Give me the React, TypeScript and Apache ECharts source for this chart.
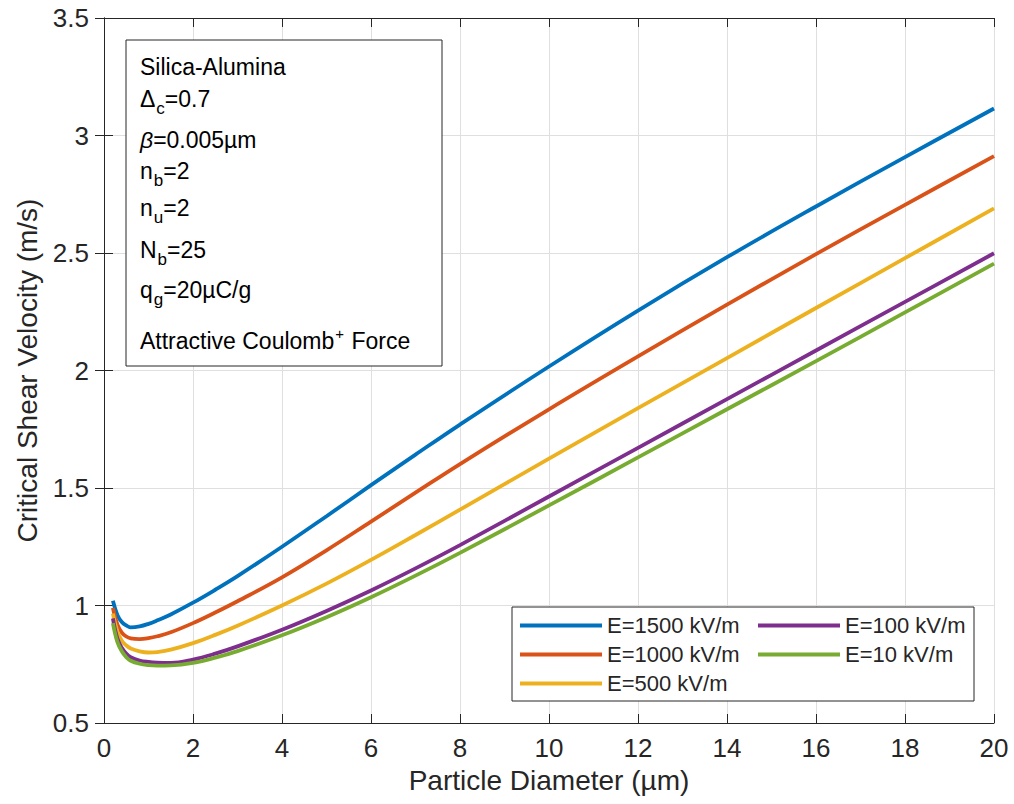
import React, { useEffect, useRef } from "react";
import * as echarts from "echarts";

// Particle diameter (µm)
const diameters = [0.2, 0.3, 0.4, 0.5, 0.6, 0.8, 1.0, 1.2, 1.5, 2, 2.5, 3, 4, 5, 6, 7, 8, 10, 12, 14, 16, 18, 20];

// Critical shear velocity (m/s) per field strength
const e1500 = [1.02, 0.96, 0.93, 0.915, 0.907, 0.911, 0.922, 0.937, 0.962, 1.012, 1.067, 1.125, 1.25, 1.38, 1.512, 1.642, 1.77, 2.017, 2.255, 2.482, 2.698, 2.908, 3.115];
const e1000 = [0.99, 0.92, 0.885, 0.868, 0.86, 0.857, 0.861, 0.869, 0.886, 0.925, 0.97, 1.018, 1.12, 1.235, 1.357, 1.48, 1.602, 1.835, 2.06, 2.28, 2.495, 2.705, 2.912];
const e500 = [0.965, 0.89, 0.85, 0.83, 0.817, 0.805, 0.8, 0.802, 0.812, 0.84, 0.875, 0.914, 1.0, 1.093, 1.194, 1.3, 1.408, 1.625, 1.84, 2.053, 2.266, 2.478, 2.69];
const e100 = [0.945, 0.86, 0.82, 0.795, 0.78, 0.766, 0.76, 0.757, 0.756, 0.77, 0.795, 0.826, 0.897, 0.977, 1.064, 1.158, 1.257, 1.464, 1.671, 1.878, 2.085, 2.292, 2.499];
const e10 = [0.925, 0.845, 0.805, 0.78, 0.765, 0.752, 0.746, 0.744, 0.745, 0.756, 0.778, 0.806, 0.873, 0.95, 1.035, 1.127, 1.224, 1.426, 1.63, 1.835, 2.04, 2.247, 2.455];

const seriesNames = ["E=1500 kV/m", "E=1000 kV/m", "E=500 kV/m", "E=100 kV/m", "E=10 kV/m"];
const seriesValues = [e1500, e1000, e500, e100, e10];
const colors = ["#0072BD", "#D95319", "#EDB120", "#7E2F8E", "#77AC30"];

const xMin = 0;
const xMax = 20;
const xStep = 2;
const yMin = 0.5;
const yMax = 3.5;
const yStep = 0.5;

const FONT = "'Liberation Sans', Arial, Helvetica, sans-serif";
const INK = "#262626";

export default function App() {
  const ref = useRef<HTMLDivElement>(null);

  useEffect(() => {
    if (!ref.current) return;
    const chart = echarts.init(ref.current, undefined, { renderer: "svg" });

    const n = (t: string) => `{n|${t}}`;
    const sub = (t: string) => `{s|${t}}`;
    const sup = (t: string) => `{p|${t}}`;
    const rich = {
      n: { fontSize: 23, fontFamily: FONT, color: INK },
      i: { fontSize: 23, fontFamily: FONT, color: "#555", fontStyle: "italic" },
      s: { fontSize: 17, fontFamily: FONT, color: INK, padding: [18, 0, 0, 1] },
      p: { fontSize: 15, fontFamily: FONT, color: INK, padding: [0, 1, 16, 1] },
    };
    const boxLines: [string, number][] = [
      [n("Silica-Alumina"), 67],
      [n("Δ") + sub("c") + n("=0.7"), 99],
      ["{i|β}" + n("=0.005µm"), 140],
      [n("n") + sub("b") + n("=2"), 171],
      [n("n") + sub("u") + n("=2"), 208],
      [n("N") + sub("b") + n("=25"), 250],
      [n("q") + sub("g") + n("=20µC/g"), 290],
      [n("Attractive Coulomb") + sup("+") + n(" Force"), 341],
    ];

    const axisCommon = {
      axisLine: { show: true, lineStyle: { color: INK, width: 1 } },
      axisTick: { show: true, inside: true, length: 9, lineStyle: { color: INK } },
    };

    chart.setOption({
      animation: false,
      backgroundColor: "#ffffff",
      color: colors,
      grid: { left: 104, right: 20, top: 18, bottom: 81, containLabel: false },
      xAxis: [
        {
          type: "value",
          min: xMin,
          max: xMax,
          interval: xStep,
          position: "bottom",
          ...axisCommon,
          splitLine: { show: true, lineStyle: { color: "#dfdfdf", width: 1 } },
          axisLabel: { fontSize: 26, color: INK, fontFamily: FONT, margin: 12 },
          name: "Particle Diameter (µm)",
          nameLocation: "middle",
          nameGap: 43,
          nameTextStyle: { fontSize: 28, color: INK, fontFamily: FONT },
        },
        {
          type: "value",
          min: xMin,
          max: xMax,
          interval: xStep,
          position: "top",
          ...axisCommon,
          splitLine: { show: false },
          axisLabel: { show: false },
        },
      ],
      yAxis: [
        {
          type: "value",
          min: yMin,
          max: yMax,
          interval: yStep,
          position: "left",
          ...axisCommon,
          splitLine: { show: true, lineStyle: { color: "#dfdfdf", width: 1 } },
          axisLabel: { fontSize: 26, color: INK, fontFamily: FONT, margin: 15 },
          name: "Critical Shear Velocity (m/s)",
          nameLocation: "middle",
          nameGap: 62,
          nameTextStyle: { fontSize: 28, color: INK, fontFamily: FONT },
        },
        {
          type: "value",
          min: yMin,
          max: yMax,
          interval: yStep,
          position: "right",
          ...axisCommon,
          splitLine: { show: false },
          axisLabel: { show: false },
        },
      ],
      legend: [
        {
          data: seriesNames.slice(0, 3),
          orient: "vertical",
          left: 520,
          top: 611,
          padding: 0,
          itemGap: 0,
          itemWidth: 82,
          itemHeight: 4,
          icon: "rect",
          selectedMode: false,
          textStyle: { fontSize: 22, color: INK, fontFamily: FONT, lineHeight: 29 },
          z: 6,
        },
        {
          data: seriesNames.slice(3),
          orient: "vertical",
          left: 758,
          top: 611,
          padding: 0,
          itemGap: 0,
          itemWidth: 82,
          itemHeight: 4,
          icon: "rect",
          selectedMode: false,
          textStyle: { fontSize: 22, color: INK, fontFamily: FONT, lineHeight: 29 },
          z: 6,
        },
      ],
      graphic: [
        {
          type: "rect",
          z: 5,
          shape: { x: 512, y: 607, width: 462, height: 94 },
          style: { fill: "#ffffff", stroke: INK, lineWidth: 1 },
        },
        {
          type: "rect",
          z: 5,
          shape: { x: 126, y: 40, width: 316, height: 326 },
          style: { fill: "#ffffff", stroke: INK, lineWidth: 1 },
        },
        ...boxLines.map(([t, y]) => ({
          type: "text",
          z: 6,
          x: 140,
          y,
          style: { text: t, rich, verticalAlign: "middle", align: "left" },
        })),
      ],
      series: seriesValues.map((vals, k) => ({
        name: seriesNames[k],
        type: "line",
        xAxisIndex: 0,
        yAxisIndex: 0,
        data: diameters.map((d, i) => [d, vals[i]]),
        smooth: 0.4,
        showSymbol: false,
        symbol: "none",
        lineStyle: { width: 3.8, color: colors[k] },
        itemStyle: { color: colors[k] },
        z: 2,
      })),
    });

    return () => chart.dispose();
  }, []);

  return (
    <div
      ref={ref}
      style={{ position: "fixed", left: 0, top: 0, width: 1014, height: 804, background: "#fff" }}
    />
  );
}
